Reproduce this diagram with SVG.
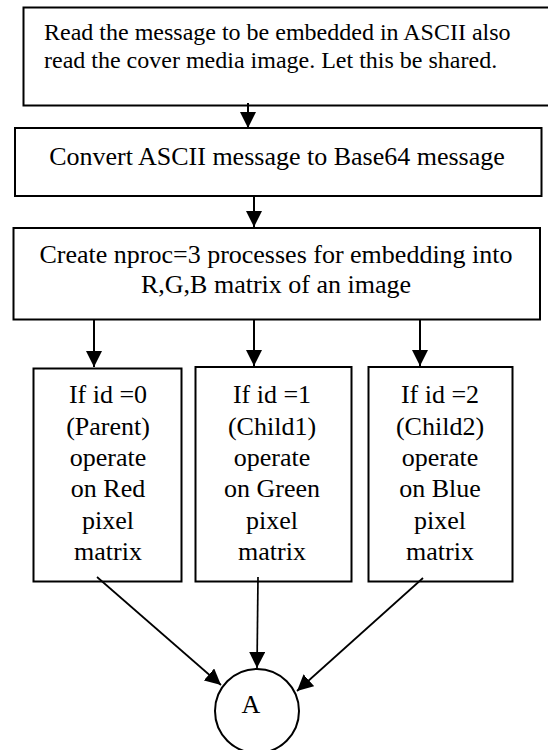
<svg xmlns="http://www.w3.org/2000/svg" width="548" height="750" viewBox="0 0 548 750">
  <style>
    .box { fill: #ffffff; stroke: #000000; stroke-width: 2; }
    .txt { font-family: "Liberation Serif", "Times New Roman", "DejaVu Serif", serif; font-size: 26px; fill: #000000; }
    .mid { text-anchor: middle; }
    .link { fill: none; stroke: #000000; stroke-width: 2; marker-end: url(#head); }
    .slant { stroke-width: 1.7; }
  </style>
  <defs>
    <marker id="head" viewBox="0 0 16 16" refX="16" refY="8" markerWidth="16" markerHeight="16" markerUnits="userSpaceOnUse" orient="auto">
      <path d="M0,0 L16,8 L0,16 Z" fill="#000000"/>
    </marker>
  </defs>

  <rect width="548" height="750" fill="#ffffff"/>

  <!-- input step -->
  <g id="read-input">
    <rect class="box" x="23.5" y="7.5" width="540" height="98"/>
    <text class="txt" style="font-size:24px" x="44" y="40">Read the message to be embedded in ASCII also</text>
    <text class="txt" style="font-size:24px" x="44" y="68">read the cover media image. Let this be shared.</text>
  </g>

  <!-- base64 conversion -->
  <g id="convert">
    <rect class="box" x="15" y="128" width="526.5" height="68"/>
    <text class="txt mid" x="277" y="165">Convert ASCII message to Base64 message</text>
  </g>

  <!-- process creation -->
  <g id="create-procs">
    <rect class="box" x="13.5" y="228" width="526.5" height="91.5"/>
    <text class="txt mid" x="276" y="263">Create nproc=3 processes for embedding into</text>
    <text class="txt mid" x="276" y="293">R,G,B matrix of an image</text>
  </g>

  <!-- per-channel workers -->
  <g id="parent-red">
    <rect class="box" x="33.5" y="368.5" width="148" height="213"/>
    <text class="txt mid" x="108" y="403">If id =0</text>
    <text class="txt mid" x="108" y="435">(Parent)</text>
    <text class="txt mid" x="108" y="466">operate</text>
    <text class="txt mid" x="108" y="497">on Red</text>
    <text class="txt mid" x="108" y="529">pixel</text>
    <text class="txt mid" x="108" y="560">matrix</text>
  </g>

  <g id="child1-green">
    <rect class="box" x="195.5" y="367" width="156" height="214.5"/>
    <text class="txt mid" x="272" y="403">If id =1</text>
    <text class="txt mid" x="272" y="435">(Child1)</text>
    <text class="txt mid" x="272" y="466">operate</text>
    <text class="txt mid" x="272" y="497">on Green</text>
    <text class="txt mid" x="272" y="529">pixel</text>
    <text class="txt mid" x="272" y="560">matrix</text>
  </g>

  <g id="child2-blue">
    <rect class="box" x="368.5" y="367" width="144" height="214.5"/>
    <text class="txt mid" x="440" y="403">If id =2</text>
    <text class="txt mid" x="440" y="435">(Child2)</text>
    <text class="txt mid" x="440" y="466">operate</text>
    <text class="txt mid" x="440" y="497">on Blue</text>
    <text class="txt mid" x="440" y="529">pixel</text>
    <text class="txt mid" x="440" y="560">matrix</text>
  </g>

  <!-- off-page connector -->
  <g id="connector-a">
    <circle cx="257" cy="711" r="42" fill="#ffffff" stroke="#000000" stroke-width="2"/>
    <text class="txt mid" x="251" y="713">A</text>
  </g>

  <!-- connectors -->
  <g id="connectors">
    <line class="link" x1="248" y1="103" x2="248" y2="128"/>
    <line class="link" x1="254" y1="196" x2="254" y2="227"/>
    <line class="link" x1="94" y1="319.5" x2="94" y2="367"/>
    <line class="link" x1="254" y1="319.5" x2="254" y2="366"/>
    <line class="link" x1="420" y1="319.5" x2="420" y2="366"/>
    <line class="link slant" x1="97" y1="577" x2="221" y2="685"/>
    <line class="link slant" x1="258" y1="577" x2="257" y2="668"/>
    <line class="link slant" x1="423" y1="578" x2="297" y2="691"/>
  </g>
</svg>
